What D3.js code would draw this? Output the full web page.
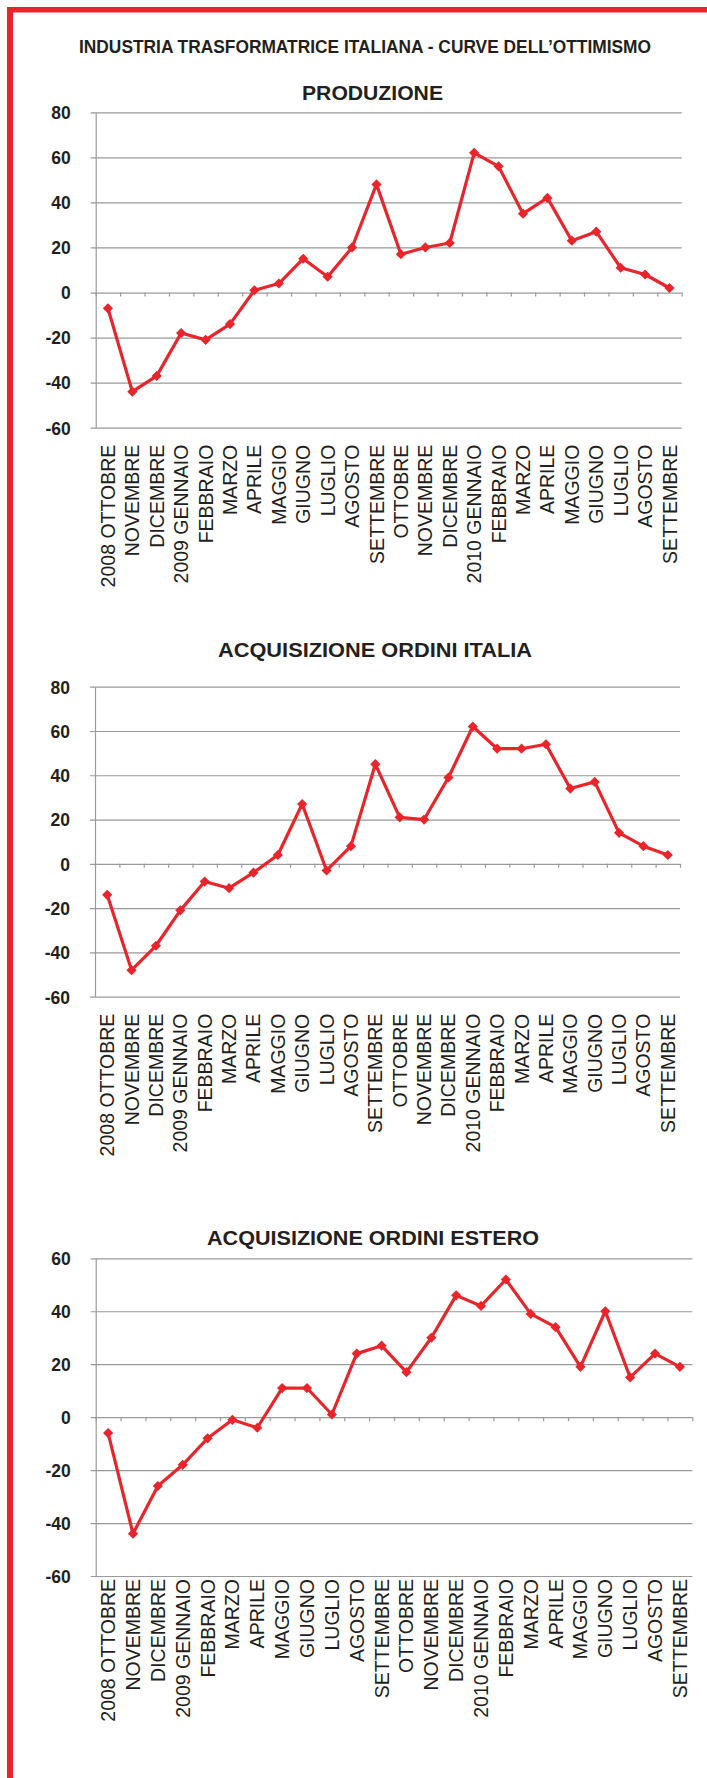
<!DOCTYPE html>
<html>
<head>
<meta charset="utf-8">
<script src="https://cdn.jsdelivr.net/npm/d3@7"></script>
<style>
  body { margin: 0; background: #fff; }
  svg { display: block; font-family: "Liberation Sans", Arial, Helvetica, sans-serif; }
  .grid line { stroke: #9a9a9a; stroke-width: 1.2; }
  .grid path { stroke: #9a9a9a; stroke-width: 1.2; }
  .grid text { fill: #231f20; font-size: 17.5px; font-weight: bold; }
  .x-ticks line, .x-ticks path { stroke: #9a9a9a; stroke-width: 1.2; }
  .x-labels text { fill: #231f20; font-size: 19.5px; }
  .title { fill: #231f20; font-weight: bold; }
</style>
</head>
<body>
<svg id="canvas"></svg>
<script>
// Categories (24 months, Oct 2008 - Sep 2010)
var months = ['2008 OTTOBRE', 'NOVEMBRE', 'DICEMBRE', '2009 GENNAIO', 'FEBBRAIO', 'MARZO',
  'APRILE', 'MAGGIO', 'GIUGNO', 'LUGLIO', 'AGOSTO', 'SETTEMBRE', 'OTTOBRE', 'NOVEMBRE',
  'DICEMBRE', '2010 GENNAIO', 'FEBBRAIO', 'MARZO', 'APRILE', 'MAGGIO', 'GIUGNO', 'LUGLIO',
  'AGOSTO', 'SETTEMBRE'];

// Series values
var produzione = [-7, -44, -37, -18, -21, -14, 1, 4, 15, 7, 20, 48, 17, 20, 22, 62, 56, 35, 42, 23, 27, 11, 8, 2];
var ordiniItalia = [-14, -48, -37, -21, -8, -11, -4, 4, 27, -3, 8, 45, 21, 20, 39, 62, 52, 52, 54, 34, 37, 14, 8, 4];
var ordiniEstero = [-6, -44, -26, -18, -8, -1, -4, 11, 11, 1, 24, 27, 17, 30, 46, 42, 52, 39, 34, 19, 40, 15, 24, 19];

// Y tick values
var ticksWide = [-60, -40, -20, 0, 20, 40, 60, 80];
var ticksNarrow = [-60, -40, -20, 0, 20, 40, 60];

var mainTitle = 'INDUSTRIA TRASFORMATRICE ITALIANA - CURVE DELL\u2019OTTIMISMO';

var width = 707;
var height = 1778;
var red = '#e9252b';

var svg = d3.select('#canvas')
  .attr('width', width)
  .attr('height', height);

svg.append('rect')
  .attr('width', width)
  .attr('height', height)
  .attr('fill', '#fff');

// Red frame (only top and left are visible)
svg.append('rect')
  .attr('x', 7).attr('y', 7)
  .attr('width', width - 7).attr('height', 5.5)
  .attr('fill', red);
svg.append('rect')
  .attr('x', 7).attr('y', 7)
  .attr('width', 6).attr('height', height - 7)
  .attr('fill', red);

svg.append('text')
  .attr('class', 'title')
  .attr('x', 365)
  .attr('y', 53)
  .attr('text-anchor', 'middle')
  .attr('font-size', 18.5)
  .attr('textLength', 572)
  .attr('lengthAdjust', 'spacingAndGlyphs')
  .text(mainTitle);

drawChart({
  title: 'PRODUZIONE', titleY: 100, titleX: 372.5, titleWidth: 141,
  values: produzione, ticks: ticksWide,
  left: 95.7, right: 681.7, top: 112.3, bottom: 427.7, labelGap: 17
});

drawChart({
  title: 'ACQUISIZIONE ORDINI ITALIA', titleY: 657, titleX: 375, titleWidth: 314,
  values: ordiniItalia, ticks: ticksWide,
  left: 95, right: 680, top: 686.7, bottom: 996.7, labelGap: 17
});

drawChart({
  title: 'ACQUISIZIONE ORDINI ESTERO', titleY: 1245, titleX: 373, titleWidth: 332,
  values: ordiniEstero, ticks: ticksNarrow,
  left: 95.7, right: 692.3, top: 1258.3, bottom: 1576, labelGap: 3
});

function drawChart(c) {
  var w = c.right - c.left;
  var g = svg.append('g')
    .attr('transform', 'translate(' + c.left + ',0)');

  var y = d3.scaleLinear()
    .domain([d3.min(c.ticks), d3.max(c.ticks)])
    .range([c.bottom, c.top]);

  // boundaries for the ticks, band for the labels
  var xLin = d3.scaleLinear()
    .domain([0, months.length])
    .range([0, w]);
  var xBand = d3.scaleBand()
    .domain(d3.range(months.length))
    .range([0, w]);

  g.append('text')
    .attr('class', 'title')
    .attr('x', c.titleX - c.left)
    .attr('y', c.titleY)
    .attr('text-anchor', 'middle')
    .attr('font-size', 20)
    .attr('textLength', c.titleWidth)
    .attr('lengthAdjust', 'spacingAndGlyphs')
    .text(c.title);

  // Gridlines + y labels (plain hyphen for negatives)
  var grid = g.append('g')
    .attr('class', 'grid')
    .call(d3.axisLeft(y)
      .tickValues(c.ticks)
      .tickSizeInner(-w)
      .tickSizeOuter(0)
      .tickPadding(25)
      .tickFormat(function(d) { return String(d); }));
  grid.selectAll('.tick line').attr('x1', -5);
  grid.selectAll('.tick text').attr('dy', '0.36em');

  // small ticks on the zero line
  var xTicks = g.append('g')
    .attr('class', 'x-ticks')
    .attr('transform', 'translate(0,' + y(0) + ')')
    .call(d3.axisBottom(xLin)
      .tickValues(d3.range(months.length + 1))
      .tickSize(4)
      .tickFormat(''));
  xTicks.select('.domain').remove();

  // month labels below the plot
  var xLabels = g.append('g')
    .attr('class', 'x-labels')
    .attr('transform', 'translate(0,' + c.bottom + ')')
    .call(d3.axisBottom(xBand)
      .tickSize(0)
      .tickFormat(function(i) { return months[i]; }));
  xLabels.select('.domain').remove();
  xLabels.selectAll('text')
    .attr('transform', 'rotate(-90)')
    .attr('text-anchor', 'end')
    .attr('x', -c.labelGap)
    .attr('y', 0)
    .attr('dy', '0.36em');

  var line = d3.line()
    .x(function(d, i) { return xLin(i + 0.5); })
    .y(function(d) { return y(d); });

  g.append('path')
    .datum(c.values)
    .attr('d', line)
    .attr('fill', 'none')
    .attr('stroke', red)
    .attr('stroke-width', 3.2)
    .attr('stroke-linejoin', 'round');

  g.selectAll('.marker')
    .data(c.values)
    .enter()
    .append('path')
    .attr('class', 'marker')
    .attr('d', d3.symbol(d3.symbolSquare, 52))
    .attr('transform', function(d, i) {
      return 'translate(' + xLin(i + 0.5) + ',' + y(d) + ') rotate(45)';
    })
    .attr('fill', red);
}
</script>
</body>
</html>
